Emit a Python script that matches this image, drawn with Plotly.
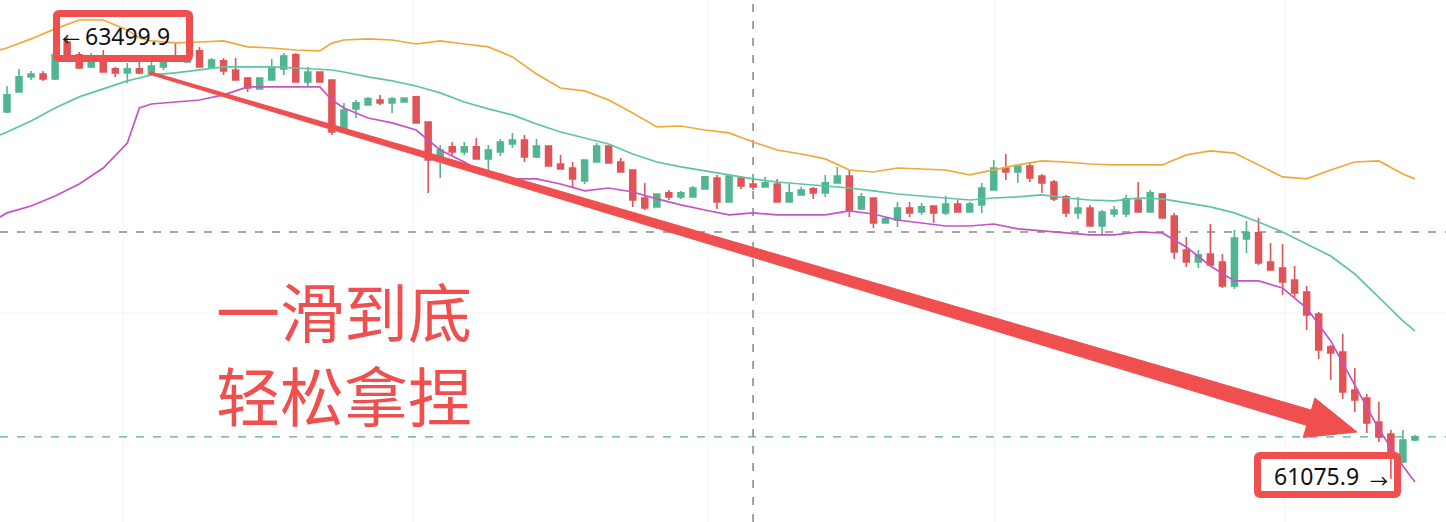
import plotly.graph_objects as go
import math

W, H = 1446, 522

# ---------------- data ----------------
candle_idx = list(range(118))

open_ = [
    63093, 63203, 63286, 63302, 63275, 63478, 63407, 63341, 63390, 63330,
    63308, 63330, 63302, 63341, 63390, 63368, 63429, 63341, 63374, 63324,
    63280, 63220, 63269, 63330, 63407, 63258, 63313, 63269, 62983, 63110,
    63132, 63159, 63143, 63148, 63176, 63038, 62829, 62901, 62873, 62901,
    62835, 62873, 62917, 62939, 62846, 62906, 62807, 62785, 62714, 62818,
    62906, 62818, 62774, 62620, 62571, 62648, 62626, 62626, 62670, 62730,
    62598, 62730, 62697, 62681, 62697, 62598, 62637, 62670, 62648, 62703,
    62741, 62560, 62620, 62483, 62499, 62565, 62543, 62576, 62538, 62587,
    62543, 62582, 62664, 62785, 62763, 62796, 62741, 62708, 62626, 62538,
    62565, 62466, 62532, 62532, 62609, 62543, 62642, 62521, 62334, 62268,
    62312, 62268, 62136, 62395, 62428, 62268, 62235, 62169, 62103, 61982,
    61801, 61773, 61564, 61520, 61388, 61322, 61168, 61289]

high = [
    63236, 63330, 63319, 63319, 63445, 63499.9, 63423, 63418, 63434, 63341,
    63363, 63390, 63379, 63407, 63478, 63434, 63451, 63390, 63390, 63390,
    63286, 63280, 63385, 63418, 63418, 63341, 63313, 63269, 63143, 63159,
    63176, 63187, 63176, 63170, 63181, 63038, 62912, 62928, 62928, 62950,
    62912, 62945, 62978, 62967, 62945, 62906, 62857, 62818, 62829, 62923,
    62906, 62840, 62774, 62703, 62642, 62664, 62659, 62686, 62736, 62747,
    62741, 62730, 62725, 62736, 62725, 62697, 62681, 62681, 62747, 62791,
    62774, 62648, 62620, 62521, 62598, 62598, 62593, 62576, 62631, 62609,
    62598, 62703, 62829, 62862, 62796, 62813, 62752, 62719, 62637, 62626,
    62582, 62554, 62576, 62637, 62708, 62664, 62648, 62538, 62406, 62334,
    62477, 62312, 62444, 62494, 62510, 62373, 62367, 62246, 62136, 61993,
    61812, 61872, 61685, 61542, 61498, 61344, 61344, 61317]

low = [
    63088, 63203, 63269, 63264, 63269, 63379, 63330, 63335, 63313, 63286,
    63253, 63302, 63297, 63324, 63368, 63363, 63341, 63335, 63297, 63269,
    63203, 63220, 63269, 63297, 63258, 63231, 63258, 62967, 62983, 63060,
    63132, 63132, 63088, 63148, 63033, 62648, 62730, 62857, 62857, 62835,
    62763, 62851, 62895, 62818, 62840, 62796, 62780, 62675, 62697, 62818,
    62813, 62763, 62571, 62554, 62571, 62609, 62615, 62626, 62670, 62560,
    62598, 62670, 62664, 62681, 62598, 62598, 62637, 62615, 62626, 62703,
    62516, 62560, 62455, 62483, 62461, 62516, 62527, 62483, 62527, 62543,
    62543, 62538, 62664, 62719, 62703, 62708, 62648, 62604, 62516, 62505,
    62466, 62417, 62516, 62516, 62543, 62543, 62510, 62285, 62241, 62235,
    62252, 62125, 62120, 62318, 62252, 62224, 62087, 62076, 61894, 61735,
    61619, 61515, 61443, 61328, 61278, 61075.9, 61163, 61284]

close = [
    63187, 63286, 63302, 63275, 63407, 63390, 63335, 63396, 63313, 63308,
    63330, 63308, 63346, 63379, 63374, 63401, 63341, 63379, 63319, 63269,
    63225, 63280, 63335, 63401, 63258, 63313, 63258, 62983, 63104, 63143,
    63165, 63143, 63165, 63170, 63033, 62829, 62884, 62873, 62901, 62835,
    62884, 62928, 62939, 62846, 62906, 62796, 62780, 62725, 62829, 62906,
    62813, 62763, 62609, 62565, 62642, 62626, 62648, 62675, 62736, 62598,
    62741, 62686, 62681, 62703, 62598, 62648, 62664, 62648, 62703, 62741,
    62549, 62626, 62483, 62505, 62565, 62538, 62571, 62538, 62587, 62543,
    62587, 62675, 62785, 62763, 62796, 62730, 62703, 62615, 62538, 62565,
    62466, 62543, 62554, 62615, 62543, 62648, 62510, 62323, 62268, 62307,
    62252, 62136, 62400, 62428, 62263, 62224, 62158, 62098, 61977, 61784,
    61768, 61553, 61509, 61383, 61306, 61218, 61289, 61306]

band_idx = [-0.58, 0, 2, 4, 6, 8, 10, 11, 12, 14, 16, 18, 20, 22, 24, 26, 27, 28,
            30, 32, 34, 36, 38, 40, 42, 44, 46, 48, 50, 52, 54, 56, 58, 60, 62, 64,
            66, 68, 70, 72, 74, 76, 78, 80, 82, 84, 86, 88, 90, 92, 94, 96, 98, 100,
            102, 104, 106, 108, 110, 112, 114, 116, 117]

band_upper = [63434, 63445, 63495, 63550, 63599, 63599, 63544, 63500, 63484, 63473,
              63478, 63484, 63451, 63445, 63434, 63429, 63472, 63489,
              63495, 63489, 63467, 63484, 63467, 63451, 63396, 63302, 63225, 63209,
              63159, 63088, 63011, 63016, 62994, 62978, 62928, 62884, 62862, 62835,
              62774, 62763, 62785, 62780, 62774, 62747, 62774, 62802, 62824, 62818,
              62807, 62802, 62802, 62802, 62857, 62879, 62867, 62802, 62736, 62725,
              62774, 62818, 62824, 62752, 62725]

band_mid = [62967, 62983, 63044, 63115, 63176, 63220, 63264, 63280, 63297, 63308,
            63324, 63341, 63341, 63341, 63335, 63330, 63324, 63313,
            63286, 63264, 63236, 63198, 63148, 63110, 63077, 63027, 62983, 62950,
            62917, 62862, 62818, 62791, 62769, 62747, 62725, 62708, 62697, 62686,
            62675, 62659, 62642, 62631, 62620, 62609, 62620, 62626, 62637, 62620,
            62609, 62604, 62620, 62615, 62593, 62571, 62538, 62488, 62433, 62367,
            62301, 62202, 62075, 61944, 61889]

band_lower = [62516, 62538, 62576, 62631, 62697, 62785, 62922, 63115, 63137, 63148,
              63159, 63187, 63231, 63231, 63231, 63231, 63159, 63115,
              63060, 63033, 62994, 62884, 62818, 62741, 62725, 62725, 62697, 62659,
              62675, 62653, 62615, 62582, 62554, 62527, 62538, 62527, 62527, 62527,
              62549, 62532, 62499, 62483, 62466, 62466, 62477, 62450, 62439, 62428,
              62417, 62417, 62433, 62428, 62351, 62246, 62164, 62164, 62125, 62015,
              61834, 61591, 61349, 61146, 61058]

cross_idx = 62
cross_price = 62433
high_label = "63499.9"
low_label = "61075.9"
title_lines = ["一滑到底", "轻松拿捏"]

# ---------------- styles ----------------
UP = "#52b592"
DOWN = "#e05457"
RED = "#ef4f4f"
ORANGE = "#eeaa38"
TEAL = "#5cc5a5"
MAGENTA = "#c653c4"


def px(x):
    return x / W


def py(y):
    return 1 - y / H


fig = go.Figure()
fig.add_trace(go.Candlestick(
    x=candle_idx, open=open_, high=high, low=low, close=close,
    increasing=dict(line=dict(color=UP, width=1.6), fillcolor=UP),
    decreasing=dict(line=dict(color=DOWN, width=1.6), fillcolor=DOWN),
    whiskerwidth=0, hoverinfo="skip"))

for vals, col in [(band_upper, ORANGE), (band_mid, TEAL), (band_lower, MAGENTA)]:
    fig.add_trace(go.Scatter(x=band_idx, y=vals, mode="lines",
                             line=dict(color=col, width=1.7), hoverinfo="skip"))

shapes = []
# faint grid
for gx in [123, 413, 708, 995, 1285]:
    shapes.append(dict(type="line", xref="paper", yref="paper", x0=px(gx), x1=px(gx),
                       y0=0, y1=1, line=dict(color="#f3f3f3", width=1), layer="below"))
for gy in [313]:
    shapes.append(dict(type="line", xref="paper", yref="paper", x0=0, x1=1,
                       y0=py(gy), y1=py(gy), line=dict(color="#f3f3f3", width=1), layer="below"))
# crosshair
shapes.append(dict(type="line", xref="x", yref="paper", x0=cross_idx, x1=cross_idx, y0=0, y1=1,
                   line=dict(color="#8c8c8c", width=1.6, dash="8px,9px"), layer="below"))
shapes.append(dict(type="line", xref="paper", yref="y", x0=0, x1=1, y0=cross_price, y1=cross_price,
                   line=dict(color="#8c8c8c", width=1.6, dash="8px,9px"), layer="below"))
# last price line
shapes.append(dict(type="line", xref="paper", yref="y", x0=0, x1=1, y0=close[-1], y1=close[-1],
                   line=dict(color="#4fae92", width=1.4, dash="8px,9px"), layer="below"))


def rrect(x0, y0, x1, y1, r):
    pts = [
        f"M{px(x0 + r)},{py(y0)}", f"L{px(x1 - r)},{py(y0)}",
        f"Q{px(x1)},{py(y0)} {px(x1)},{py(y0 + r)}", f"L{px(x1)},{py(y1 - r)}",
        f"Q{px(x1)},{py(y1)} {px(x1 - r)},{py(y1)}", f"L{px(x0 + r)},{py(y1)}",
        f"Q{px(x0)},{py(y1)} {px(x0)},{py(y1 - r)}", f"L{px(x0)},{py(y0 + r)}",
        f"Q{px(x0)},{py(y0)} {px(x0 + r)},{py(y0)}", "Z"]
    return " ".join(pts)


shapes.append(dict(type="path", xref="paper", yref="paper", path=rrect(56.5, 13.5, 189.5, 58.5, 3),
                   line=dict(color=RED, width=7), layer="above"))
shapes.append(dict(type="path", xref="paper", yref="paper", path=rrect(1257.5, 455.5, 1397.5, 494.5, 3),
                   line=dict(color=RED, width=7), layer="above"))

# big tapered arrow
Sx, Sy = 150.0, 73.0
Tx, Ty = 1357.0, 432.0
L = math.hypot(Tx - Sx, Ty - Sy)
dx, dy = (Tx - Sx) / L, (Ty - Sy) / L
nx, ny = -dy, dx
head_len, head_hw, s0, s1 = 50.0, 20.5, 1.3, 8.0
Bx, By = Tx - head_len * dx, Ty - head_len * dy
poly = [
    (Sx + s0 * nx, Sy + s0 * ny),
    (Bx + s1 * nx, By + s1 * ny),
    (Bx + head_hw * nx, By + head_hw * ny),
    (Tx, Ty),
    (Bx - head_hw * nx, By - head_hw * ny),
    (Bx - s1 * nx, By - s1 * ny),
    (Sx - s0 * nx, Sy - s0 * ny),
]
path = "M" + " L".join(f"{px(a)},{py(b)}" for a, b in poly) + " Z"
shapes.append(dict(type="path", xref="paper", yref="paper", path=path,
                   fillcolor=RED, line=dict(color=RED, width=1), layer="above"))

annotations = [
    dict(text="←", x=px(71), y=py(38), xref="paper", yref="paper", showarrow=False,
         xanchor="center", yanchor="middle", font=dict(family="Noto Sans CJK SC", size=18, color="#111111")),
    dict(text=high_label, x=px(83), y=py(36), xref="paper", yref="paper", showarrow=False,
         xanchor="left", yanchor="middle", font=dict(family="Noto Sans", size=23, color="#111111")),
    dict(text=low_label, x=px(1272), y=py(476), xref="paper", yref="paper", showarrow=False,
         xanchor="left", yanchor="middle", font=dict(family="Noto Sans", size=23, color="#111111")),
    dict(text="→", x=px(1378.5), y=py(480), xref="paper", yref="paper", showarrow=False,
         xanchor="center", yanchor="middle", font=dict(family="Noto Sans CJK SC", size=18, color="#111111")),
    dict(text=title_lines[0], x=px(214), y=py(309), xref="paper", yref="paper", showarrow=False,
         xanchor="left", yanchor="middle", font=dict(family="Noto Sans CJK SC", size=64, color=RED)),
    dict(text=title_lines[1], x=px(214), y=py(393), xref="paper", yref="paper", showarrow=False,
         xanchor="left", yanchor="middle", font=dict(family="Noto Sans CJK SC", size=64, color=RED)),
]

fig.update_layout(
    width=W, height=H, margin=dict(l=0, r=0, t=0, b=0),
    paper_bgcolor="white", plot_bgcolor="white", showlegend=False,
    xaxis=dict(range=[-0.58, 119.58], visible=False, rangeslider=dict(visible=False), fixedrange=True),
    yaxis=dict(range=[60838, 63709], visible=False, fixedrange=True),
    shapes=shapes, annotations=annotations, hovermode=False,
)

fig.write_html("out.html", config={"displayModeBar": False},
               post_script="document.body.style.margin='0';document.body.style.overflow='hidden';")
